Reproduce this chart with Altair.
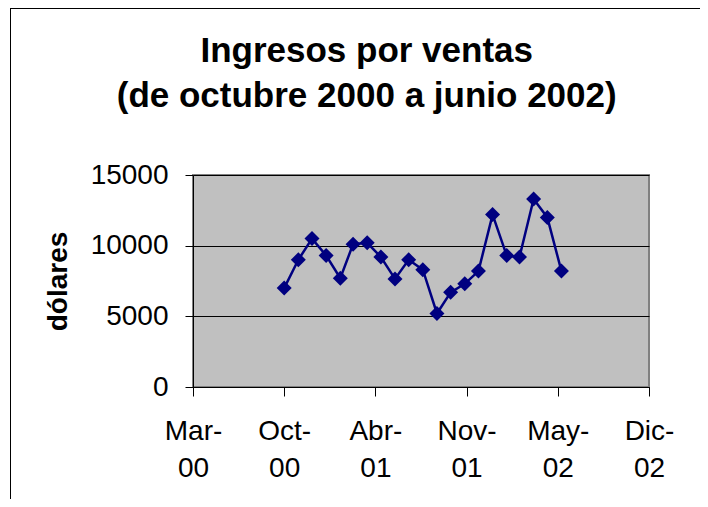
import altair as alt
import pandas as pd

# ---- data ----
fechas = ["2000-10-01", "2000-11-01", "2000-12-01", "2001-01-01", "2001-02-01",
          "2001-03-01", "2001-04-01", "2001-05-01", "2001-06-01", "2001-07-01",
          "2001-08-01", "2001-09-01", "2001-10-01", "2001-11-01", "2001-12-01",
          "2002-01-01", "2002-02-01", "2002-03-01", "2002-04-01", "2002-05-01",
          "2002-06-01"]
ingresos = [7000, 9000, 10500, 9300, 7700, 10100, 10200, 9200, 7650, 9000,
            8300, 5200, 6700, 7300, 8200, 12200, 9300, 9200, 13300, 12000, 8200]
y_ticks = [0, 5000, 10000, 15000]
x_tick_fechas = ["2000-03-15", "2000-10-01", "2001-04-19", "2001-11-05",
                 "2002-05-24", "2002-12-10"]
meses = ["Ene", "Feb", "Mar", "Abr", "May", "Jun", "Jul", "Ago", "Sep", "Oct", "Nov", "Dic"]
titulo = ["Ingresos por ventas", "(de octubre 2000 a junio 2002)"]
titulo_y = "dólares"

FONT = "Liberation Sans"
NAVY = "#000080"


def ms(d):
    return int(pd.Timestamp(d, tz="UTC").value // 10**6)


x_vals = [ms(d) for d in x_tick_fechas]
meses_js = "[" + ",".join("'%s'" % m for m in meses) + "]"
label_expr = f"[{meses_js}[utcmonth(datum.value)] + '-', utcFormat(datum.value, '%y')]"

df = pd.DataFrame({"fecha": fechas, "ingresos": ingresos})

x_enc = alt.X(
    "fecha:T",
    scale=alt.Scale(type="utc", domain=[x_vals[0], x_vals[-1]], nice=False),
    axis=alt.Axis(values=x_vals, labelExpr=label_expr, title=None, grid=False,
                  tickSize=9, labelPadding=21, labelLineHeight=37,
                  labelBaseline="top", labelAlign="center", labelFlush=False,
                  labelOverlap=False),
)
y_enc = alt.Y(
    "ingresos:Q",
    scale=alt.Scale(domain=[0, 15000], nice=False),
    axis=alt.Axis(values=y_ticks, format="d", title=titulo_y, grid=True,
                  tickSize=8, labelPadding=17, titleFont=FONT, titleFontSize=28,
                  titleFontWeight="bold", titleAngle=270, titleX=-127, titleY=106,
                  titleAlign="center", titleBaseline="alphabetic"),
)

base = alt.Chart(df).encode(x=x_enc, y=y_enc)
line = base.mark_line(color=NAVY, strokeWidth=2.5)
pts = base.mark_point(shape="diamond", filled=True, size=225, color=NAVY, opacity=1)

one = pd.DataFrame({"k": [0]})
top_rule = alt.Chart(one).mark_rule(color="black", strokeWidth=1).encode(
    x=alt.value(-183), x2=alt.value(507), y=alt.value(-166.5))
left_rule = alt.Chart(one).mark_rule(color="black", strokeWidth=1).encode(
    x=alt.value(-182.5), y=alt.value(-166.5), y2=alt.value(324))
title_text = alt.Chart(one).mark_text(
    font=FONT, fontSize=35, fontWeight="bold", align="center",
    baseline="alphabetic", lineHeight=45.6, color="black"
).encode(x=alt.value(173.7), y=alt.value(-113.3), text=alt.value(titulo))

chart = alt.layer(top_rule, left_rule, title_text, line, pts).properties(
    width=456, height=212,
    background="white",
    autosize=alt.AutoSizeParams(type="none"),
    padding={"left": 185, "top": 167, "right": 51, "bottom": 112},
).configure_view(
    fill="#C0C0C0", stroke="#808080", strokeWidth=2
).configure_axis(
    labelFont=FONT, labelFontSize=28, labelColor="black",
    domainColor="black", tickColor="black", gridColor="black",
    domainWidth=1, tickWidth=1, gridWidth=1, titleColor="black",
)

chart.save("out.html", embed_options={"renderer": "svg", "actions": False})
